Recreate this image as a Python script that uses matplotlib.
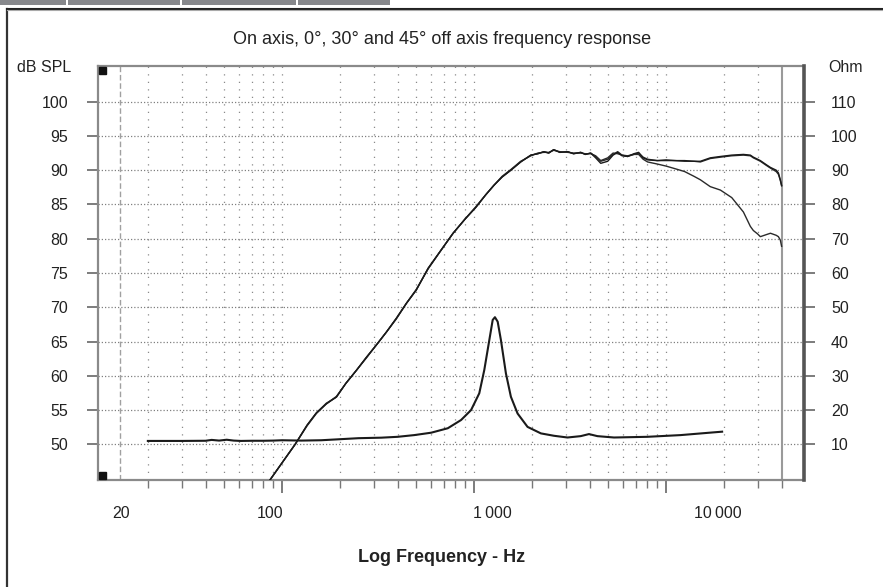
import matplotlib
matplotlib.use("Agg")
import matplotlib.pyplot as plt
from matplotlib.patches import Rectangle
from matplotlib.lines import Line2D
from matplotlib.ticker import NullFormatter, FixedLocator

plt.rcParams['font.family'] = ['Liberation Sans', 'DejaVu Sans']

# ---------------- data ----------------
title = "On axis, 0°, 30° and 45° off axis frequency response"
left_axis_label = "dB SPL"
right_axis_label = "Ohm"
x_axis_label = "Log Frequency - Hz"

spl_freq = [85, 100, 117, 135, 151, 170, 192, 215, 244, 275, 310, 350, 394, 445, 500,
            577, 680, 778, 900, 1024, 1150, 1270, 1400, 1556, 1750, 1977, 2150, 2310,
            2450, 2600, 2800, 3075, 3300, 3595, 3800, 4050, 4300, 4570, 4970, 5300,
            5600, 5900, 6310, 6800, 7200, 7600, 8020, 9000, 10000, 11200, 12500,
            14000, 15100, 17000, 19200, 22000, 25300, 27500, 28500, 30000, 31000,
            33300, 35000, 37500, 38500, 39400, 40000]

spl_0deg = [44.5, 47.3, 50.0, 52.8, 54.6, 55.9, 56.9, 58.9, 60.8, 62.7, 64.5, 66.4, 68.4,
            70.6, 72.5, 75.7, 78.5, 80.8, 82.9, 84.6, 86.4, 87.8, 89.0, 90.0, 91.2, 92.2,
            92.4, 92.7, 92.5, 93.0, 92.6, 92.7, 92.4, 92.6, 92.3, 92.5, 91.8, 91.0, 91.3,
            92.2, 92.6, 92.1, 92.0, 92.4, 92.6, 91.8, 91.5, 91.4, 91.5, 91.4, 91.4, 91.3,
            91.3, 91.8, 92.0, 92.2, 92.3, 92.2, 91.9, 91.6, 91.4, 90.8, 90.4, 90.0, 89.6,
            88.6, 87.8]

spl_30deg = [44.5, 47.3, 50.0, 52.7, 54.5, 55.9, 57.0, 58.9, 60.8, 62.6, 64.5, 66.4, 68.3,
             70.6, 72.6, 75.6, 78.5, 80.8, 82.9, 84.7, 86.4, 87.8, 89.1, 90.1, 91.3, 92.1,
             92.5, 92.6, 92.6, 92.9, 92.7, 92.6, 92.5, 92.5, 92.4, 92.4, 92.1, 91.4, 91.8,
             92.5, 92.4, 92.2, 92.1, 92.3, 92.5, 91.9, 91.6, 91.4, 91.4, 91.4, 91.3, 91.3,
             91.2, 91.7, 91.9, 92.1, 92.2, 92.1, 91.8, 91.5, 91.3, 90.7, 90.3, 89.8, 89.4,
             88.5, 87.7]

spl_45deg = [44.5, 47.3, 50.0, 52.8, 54.6, 56.0, 56.9, 58.9, 60.8, 62.7, 64.5, 66.4, 68.4,
             70.6, 72.5, 75.7, 78.5, 80.8, 82.9, 84.6, 86.4, 87.8, 89.0, 90.0, 91.2, 92.2,
             92.4, 92.7, 92.5, 93.0, 92.6, 92.7, 92.4, 92.6, 92.3, 92.5, 92.0, 91.3, 91.6,
             92.3, 92.7, 92.2, 92.0, 92.3, 92.3, 91.6, 91.2, 90.9, 90.6, 90.2, 89.8, 89.1,
             88.6, 87.6, 87.1, 86.0, 83.9, 81.8, 81.2, 80.7, 80.3, 80.6, 80.8, 80.5, 80.3,
             79.8, 78.9]

imp_freq = [20, 30, 40, 43, 47, 51.5, 56, 61, 70, 80, 90, 100, 126, 160, 200, 250, 300,
            329, 400, 488, 598, 730, 856, 965, 1065, 1131, 1201, 1251, 1285, 1328, 1381,
            1466, 1556, 1686, 1900, 2230, 2612, 3068, 3595, 3970, 4390, 5360, 7980,
            11900, 17700, 19600]
imp_ohm = [11.0, 11.0, 11.05, 11.3, 11.1, 11.35, 11.1, 11.0, 11.05, 11.05, 11.1, 11.2,
           11.1, 11.2, 11.5, 11.8, 11.9, 11.95, 12.2, 12.7, 13.4, 14.7, 17.1, 20.0, 24.9,
           31.7, 40.4, 46.3, 47.1, 45.8, 40.4, 30.7, 23.9, 19.0, 15.1, 13.2, 12.5, 12.0,
           12.4, 13.0, 12.4, 12.0, 12.2, 12.7, 13.5, 13.7]

db_ticks = [50, 55, 60, 65, 70, 75, 80, 85, 90, 95, 100]
ohm_ticks = [10, 20, 30, 40, 50, 60, 70, 80, 90, 100, 110]
major_freqs = [100, 1000, 10000]
minor_freqs = [20, 30, 40, 50, 60, 70, 80, 90,
               200, 300, 400, 500, 600, 700, 800, 900,
               2000, 3000, 4000, 5000, 6000, 7000, 8000, 9000,
               20000, 30000, 40000]
grid_freqs = [20, 30, 40, 50, 60, 70, 80, 90, 100,
              200, 300, 400, 500, 600, 700, 800, 900, 1000,
              2000, 3000, 4000, 5000, 6000, 7000, 8000, 9000, 10000,
              20000, 30000]
x_tick_labels = ["20", "100", "1\u2009000", "10\u2009000"]
x_tick_label_px = [121, 270, 492, 718]

# ---------------- layout ----------------
W, H = 883, 587
fig = plt.figure(figsize=(W / 100, H / 100), dpi=100)
fig.patch.set_facecolor('white')


def fx(px):
    return px / W


def fy(py):
    return 1 - py / H


L, R, T, B = 98, 804, 66, 480
ax = fig.add_axes([fx(L), fy(B), fx(R) - fx(L), fy(T) - fy(B)])
ax.set_xscale('log')
ax.set_xlim(11.0, 52330)
ax.set_ylim(44.8, 105.2)
ax.set_facecolor('white')

# grid
for f in grid_freqs:
    ax.axvline(f, color='#8a8a8a', lw=0.9, ls=(0, (1, 5)), zorder=1)
for d in db_ticks:
    ax.axhline(d, color='#808080', lw=0.9, ls=(0, (1, 1.6)), zorder=1)
ax.axvline(14.3, color='#a0a0a0', lw=1.0, ls=(0, (4, 2)), zorder=1)
ax.axvline(40000, color='#9a9a9a', lw=1.5, zorder=2)

# SPL curves
ax.plot(spl_freq, spl_45deg, color='#2a2a2a', lw=1.0, zorder=3)
ax.plot(spl_freq, spl_30deg, color='#2a2a2a', lw=1.0, zorder=3)
ax.plot(spl_freq, spl_0deg, color='#1a1a1a', lw=1.0, zorder=3)

# ticks
ax.xaxis.set_major_locator(FixedLocator(major_freqs))
ax.xaxis.set_minor_locator(FixedLocator(minor_freqs))
ax.xaxis.set_major_formatter(NullFormatter())
ax.xaxis.set_minor_formatter(NullFormatter())
ax.tick_params(axis='x', which='major', direction='out', length=9, width=1.2, color='#666')
ax.tick_params(axis='x', which='minor', direction='out', length=6, width=1.0, color='#777')
ax.set_yticks(db_ticks)
ax.set_yticklabels([str(v) for v in db_ticks])
ax.tick_params(axis='y', direction='out', length=8, width=1.2, color='#666',
               labelsize=11.5, pad=13.5, labelcolor='#222')

for s in ['left', 'top', 'bottom']:
    ax.spines[s].set_color('#8a8a8a')
    ax.spines[s].set_linewidth(1.6)
ax.spines['right'].set_visible(False)

# impedance on right axis
ax2 = ax.twinx()
ax2.set_ylim(-0.4, 120.4)
ax2.plot(imp_freq, imp_ohm, color='#1a1a1a', lw=1.5, zorder=3)
ax2.set_yticks(ohm_ticks)
ax2.set_yticklabels([str(v) for v in ohm_ticks])
ax2.tick_params(axis='y', direction='out', length=8, width=1.2, color='#666',
                labelsize=11.5, pad=11.5, labelcolor='#222')
for s in ['left', 'top', 'bottom']:
    ax2.spines[s].set_visible(False)
ax2.spines['right'].set_color('#555')
ax2.spines['right'].set_linewidth(2.6)

# small black corner squares
sq_w, sq_h = 7 / (R - L), 7 / (B - T)
ax2.add_patch(Rectangle((0.002, 1 - sq_h - 0.002), sq_w, sq_h, transform=ax.transAxes,
                        color='#111', zorder=6, clip_on=False))
ax2.add_patch(Rectangle((0.002, 0.002), sq_w, sq_h, transform=ax.transAxes,
                        color='#111', zorder=6, clip_on=False))

# texts
fig.text(fx(442), fy(40), title, ha='center', va='center', fontsize=13, color='#222')
fig.text(fx(71), fy(67), left_axis_label, ha='right', va='center', fontsize=11.5, color='#222')
fig.text(fx(828), fy(67), right_axis_label, ha='left', va='center', fontsize=11.5, color='#222')
for lab, px in zip(x_tick_labels, x_tick_label_px):
    fig.text(fx(px), fy(513), lab, ha='center', va='center', fontsize=11.5, color='#222')
fig.text(fx(442), fy(557), x_axis_label, ha='center', va='center', fontsize=13,
         fontweight='bold', color='#222')

# outer frame and header bar
fig.add_artist(Line2D([fx(7), fx(7)], [fy(9), fy(587)], color='#333', lw=1.6))
fig.add_artist(Line2D([fx(7), 1], [fy(8.5), fy(8.5)], color='#222', lw=1.5))
fig.add_artist(Line2D([fx(7), 1], [fy(10), fy(10)], color='#aaa', lw=0.8))
fig.add_artist(Rectangle((0, fy(5)), fx(390), fy(0) - fy(5), transform=fig.transFigure,
                         color='#87888c', lw=0))
for gx in [66, 180, 296]:
    fig.add_artist(Rectangle((fx(gx), fy(5)), fx(2), fy(0) - fy(5),
                             transform=fig.transFigure, color='white', lw=0))

fig.savefig('out.png', dpi=100)
